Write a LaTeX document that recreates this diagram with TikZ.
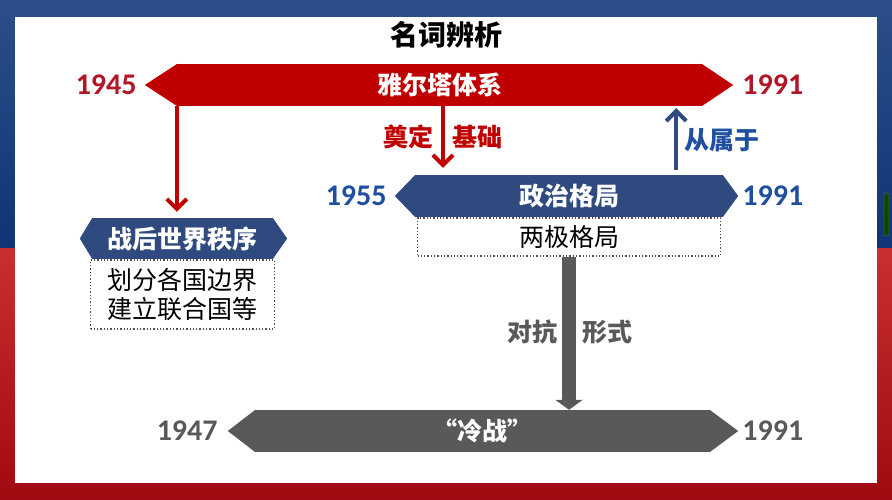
\documentclass[tikz,border=0pt]{standalone}
\usepackage{fontspec}
\usetikzlibrary{positioning,arrows.meta}
\newfontfamily\cjk{Noto Sans CJK SC}
\newfontfamily\digits{Carlito}
\definecolor{ink}{HTML}{000000}
\definecolor{figred}{HTML}{C00000}
\definecolor{yearred}{HTML}{B0182A}
\definecolor{figblue}{HTML}{2F4A7E}
\definecolor{yearblue}{HTML}{1F4FA0}
\definecolor{figgrey}{HTML}{595959}
\definecolor{dotgrey}{HTML}{505050}
\definecolor{bgbluetop}{HTML}{2C4E8A}
\definecolor{bgbluebot}{HTML}{0F3477}
\definecolor{bgredtop}{HTML}{C8302F}
\definecolor{bgredbot}{HTML}{A00A10}
\newcommand{\cjksize}{\fontsize{25}{30}\selectfont}
% the pointed ends of a banner: node, left tip, right tip, colour
\newcommand{\bartips}[4]{%
  \fill[#4] ([xshift=0.5pt]#1.north west) -- ([xshift=-#2pt]#1.west) -- ([xshift=0.5pt]#1.south west) -- cycle;
  \fill[#4] ([xshift=-0.5pt]#1.north east) -- ([xshift=#3pt]#1.east) -- ([xshift=-0.5pt]#1.south east) -- cycle;}
\tikzset{
  every picture/.style = {line join=round},
  bar/.style           = {inner sep=0pt, minimum height=42pt, text=white, font=\cjk\bfseries\cjksize},
  note/.style          = {draw=dotgrey, dotted, line width=1.3pt, inner sep=0pt, font=\cjk\cjksize, align=center},
  year/.style          = {inner sep=0pt, font=\digits\bfseries\fontsize{30}{32}\selectfont},
  tag/.style           = {inner sep=0pt, font=\cjk\bfseries\cjksize},
  link/.style          = {line width=3.5pt, -{Straight Barb[length=10pt,width=20pt,line width=4pt]}},
}
\begin{document}
\begin{tikzpicture}[x=1pt, y=-1pt]
  \useasboundingbox (0,0) rectangle (892,500);

  % ---------- slide background -------------------------------------------
  \shade[top color=bgbluetop, bottom color=bgbluebot] (0,0) rectangle (892,248);
  \shade[top color=bgredtop, bottom color=bgredbot] (0,248) rectangle (892,500);
  \fill[white] (15,17) rectangle (877,483);
  \draw[black!70, fill=green!30!black, rounded corners=2pt, line width=0.8pt] (884,193) rectangle (889,236);

  \node[font=\cjk\bfseries\fontsize{28}{30}\selectfont, text=ink] (title) at (446,35) {名词辨析};

  % ---------- the Yalta system -------------------------------------------
  \node[bar, fill=figred, minimum width=525pt] (yalta) at (439.5,85) {雅尔塔体系};
  \bartips{yalta}{32}{31}{figred}
  \node[year, text=yearred, left=40pt of yalta.west]  (y1945) {1945};
  \node[year, text=yearred, right=40pt of yalta.east] (y1991a) {1991};

  % ---------- post-war order ---------------------------------------------
  \node[bar, fill=figblue, minimum width=181pt, minimum height=41pt] (order) at (182.5,238.5) {战后世界秩序};
  \bartips{order}{12}{14}{figblue}
  \node[note, minimum width=184pt, minimum height=69pt, below=0pt of order] (orderbox)
    {划分各国边界\\[-1pt]建立联合国等};

  % ---------- political pattern ------------------------------------------
  \node[bar, fill=figblue, minimum width=308pt] (pol) at (569,196) {政治格局};
  \bartips{pol}{20}{15}{figblue}
  \node[year, text=yearblue, left=28pt of pol.west]  (y1955) {1955};
  \node[year, text=yearblue, right=19pt of pol.east] (y1991b) {1991};
  \node[note, minimum width=303pt, minimum height=38pt, below=0pt of pol] (bipolar) {两极格局};

  % ---------- the Cold War -----------------------------------------------
  \node[bar, fill=figgrey, minimum width=455pt] (cold) at (482.5,431) {“冷战”};
  \bartips{cold}{27}{28}{figgrey}
  \node[year, text=figgrey, left=37pt of cold.west]  (y1947) {1947};
  \node[year, text=figgrey, right=32pt of cold.east] (y1991c) {1991};

  % ---------- links --------------------------------------------------------
  \draw[link, figred, shorten >=6pt] (yalta.south west) -- (yalta.south west |- order.north);
  \draw[link, figred, shorten >=7pt] ([xshift=3.5pt]yalta.south) -- ([xshift=3.5pt]yalta.south |- pol.north);
  \draw[link, figblue, shorten <=5pt, shorten >=2pt] ([xshift=-47pt]pol.north east) -- ([xshift=-47pt]pol.north east |- yalta.south);
  \draw[figgrey, line width=14pt, -{Triangle[length=10pt,width=27pt]}] (bipolar.south) -- (bipolar.south |- cold.north);

  \node[tag, text=figred]   (lay)   at (408,137) {奠定};
  \node[tag, text=figred]   (base)  at (477,137) {基础};
  \node[tag, text=yearblue] (under) at (722,140) {从属于};
  \node[tag, text=figgrey]  (vs)    at (532,332) {对抗};
  \node[tag, text=figgrey]  (form)  at (607,332) {形式};
\end{tikzpicture}
\end{document}
